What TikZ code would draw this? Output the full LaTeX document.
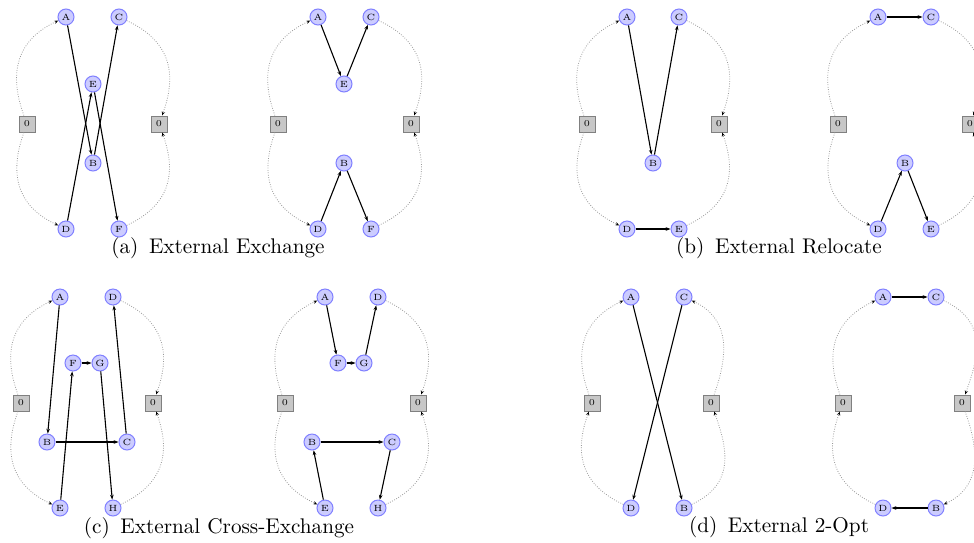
\documentclass[tikz,border=0pt]{standalone}
\usetikzlibrary{arrows.meta}

\tikzset{
  cust/.style={circle, draw=blue!50, fill=blue!20, line width=0.5pt, minimum size=8pt, inner sep=0pt, font=\fontsize{4.5}{5}\selectfont},
  depot/.style={rectangle, draw=black!50, fill=black!22, line width=0.5pt, minimum size=8pt, inner sep=0pt, font=\fontsize{4.5}{5}\selectfont},
  route/.style={-{Stealth[length=2.4pt, width=1.8pt]}, line width=0.55pt},
  tour/.style={-{Stealth[length=2pt, width=1.6pt, color=black]}, dash pattern=on 0.4pt off 0.8pt, black!40, line width=0.4pt, looseness=1.2},
  subcap/.style={font=\fontsize{10.6}{12}\selectfont}
}

\begin{document}
\begin{tikzpicture}[x=0.5pt, y=0.5pt]
  \useasboundingbox (0,0) rectangle (974,-542);

  % (a) left
  \begin{scope}[name prefix=al-]
    \node[depot] (dL) at (27,-124) {0};
    \node[depot] (dR) at (159,-124) {0};
    \node[cust] (A) at (66,-17) {A};
    \node[cust] (C) at (119,-17) {C};
    \node[cust] (E) at (93,-84) {E};
    \node[cust] (B) at (93,-163) {B};
    \node[cust] (D) at (66,-229) {D};
    \node[cust] (F) at (119,-229) {F};
    \draw[tour] (dL) to[out=110, in=205] (A);
    \draw[tour] (dL) to[out=250, in=155] (D);
    \draw[tour] (C) to[out=-25, in=70] (dR);
    \draw[tour] (F) to[out=25, in=-70] (dR);
    \draw[route] (A) -- (B);
    \draw[route] (B) -- (C);
    \draw[route] (D) -- (E);
    \draw[route] (E) -- (F);
  \end{scope}

  % (a) right
  \begin{scope}[name prefix=ar-]
    \node[depot] (dL) at (278,-124) {0};
    \node[depot] (dR) at (411,-124) {0};
    \node[cust] (A) at (318,-17) {A};
    \node[cust] (C) at (371,-17) {C};
    \node[cust] (E) at (344,-84) {E};
    \node[cust] (B) at (344,-163) {B};
    \node[cust] (D) at (318,-229) {D};
    \node[cust] (F) at (371,-229) {F};
    \draw[tour] (dL) to[out=110, in=205] (A);
    \draw[tour] (dL) to[out=250, in=155] (D);
    \draw[tour] (C) to[out=-25, in=70] (dR);
    \draw[tour] (F) to[out=25, in=-70] (dR);
    \draw[route] (A) -- (E);
    \draw[route] (E) -- (C);
    \draw[route] (D) -- (B);
    \draw[route] (B) -- (F);
  \end{scope}
  \node[subcap] (capa) at (218,-248) {(a)\enspace External Exchange};

  % (b) left
  \begin{scope}[name prefix=bl-]
    \node[depot] (dL) at (587,-124) {0};
    \node[depot] (dR) at (719,-124) {0};
    \node[cust] (A) at (627,-17) {A};
    \node[cust] (C) at (679,-17) {C};
    \node[cust] (B) at (653,-163) {B};
    \node[cust] (D) at (627,-229) {D};
    \node[cust] (E) at (679,-229) {E};
    \draw[tour] (dL) to[out=110, in=205] (A);
    \draw[tour] (dL) to[out=250, in=155] (D);
    \draw[tour] (C) to[out=-25, in=70] (dR);
    \draw[tour] (E) to[out=25, in=-70] (dR);
    \draw[route] (A) -- (B);
    \draw[route] (B) -- (C);
    \draw[route] (D) -- (E);
  \end{scope}

  % (b) right
  \begin{scope}[name prefix=br-]
    \node[depot] (dL) at (838,-124) {0};
    \node[depot] (dR) at (970,-124) {0};
    \node[cust] (A) at (878,-17) {A};
    \node[cust] (C) at (931,-17) {C};
    \node[cust] (B) at (905,-163) {B};
    \node[cust] (D) at (878,-229) {D};
    \node[cust] (E) at (931,-229) {E};
    \draw[tour] (dL) to[out=110, in=205] (A);
    \draw[tour] (dL) to[out=250, in=155] (D);
    \draw[tour] (C) to[out=-25, in=70] (dR);
    \draw[tour] (E) to[out=25, in=-70] (dR);
    \draw[route] (A) -- (C);
    \draw[route] (D) -- (B);
    \draw[route] (B) -- (E);
  \end{scope}
  \node[subcap] (capb) at (779,-248) {(b)\enspace External Relocate};

  % (c) left
  \begin{scope}[name prefix=cl-]
    \node[depot] (dL) at (21,-403) {0};
    \node[depot] (dR) at (153,-403) {0};
    \node[cust] (A) at (60,-297) {A};
    \node[cust] (D) at (113,-297) {D};
    \node[cust] (F) at (73,-363) {F};
    \node[cust] (G) at (100,-363) {G};
    \node[cust] (B) at (47,-442) {B};
    \node[cust] (C) at (127,-442) {C};
    \node[cust] (E) at (60,-508) {E};
    \node[cust] (H) at (113,-508) {H};
    \draw[tour] (dL) to[out=110, in=205] (A);
    \draw[tour] (dL) to[out=250, in=155] (E);
    \draw[tour] (D) to[out=-25, in=70] (dR);
    \draw[tour] (H) to[out=25, in=-70] (dR);
    \draw[route] (A) -- (B);
    \draw[route] (B) -- (C);
    \draw[route] (C) -- (D);
    \draw[route] (E) -- (F);
    \draw[route] (F) -- (G);
    \draw[route] (G) -- (H);
  \end{scope}

  % (c) right
  \begin{scope}[name prefix=cr-]
    \node[depot] (dL) at (285,-403) {0};
    \node[depot] (dR) at (418,-403) {0};
    \node[cust] (A) at (325,-297) {A};
    \node[cust] (D) at (378,-297) {D};
    \node[cust] (F) at (338,-363) {F};
    \node[cust] (G) at (364,-363) {G};
    \node[cust] (B) at (312,-442) {B};
    \node[cust] (C) at (392,-442) {C};
    \node[cust] (E) at (325,-508) {E};
    \node[cust] (H) at (378,-508) {H};
    \draw[tour] (dL) to[out=110, in=205] (A);
    \draw[tour] (dL) to[out=250, in=155] (E);
    \draw[tour] (D) to[out=-25, in=70] (dR);
    \draw[tour] (H) to[out=25, in=-70] (dR);
    \draw[route] (A) -- (F);
    \draw[route] (F) -- (G);
    \draw[route] (G) -- (D);
    \draw[route] (E) -- (B);
    \draw[route] (B) -- (C);
    \draw[route] (C) -- (H);
  \end{scope}
  \node[subcap] (capc) at (219,-528) {(c)\enspace External Cross-Exchange};

  % (d) left
  \begin{scope}[name prefix=dl-]
    \node[depot] (dL) at (592,-403) {0};
    \node[depot] (dR) at (711,-403) {0};
    \node[cust] (A) at (631,-297) {A};
    \node[cust] (C) at (684,-297) {C};
    \node[cust] (D) at (631,-508) {D};
    \node[cust] (B) at (684,-508) {B};
    \draw[tour] (dL) to[out=110, in=205] (A);
    \draw[tour] (D) to[out=155, in=-110] (dL);
    \draw[tour] (dR) to[out=70, in=-25] (C);
    \draw[tour] (B) to[out=25, in=-70] (dR);
    \draw[route] (A) -- (B);
    \draw[route] (C) -- (D);
  \end{scope}

  % (d) right
  \begin{scope}[name prefix=dr-]
    \node[depot] (dL) at (843,-403) {0};
    \node[depot] (dR) at (962,-403) {0};
    \node[cust] (A) at (883,-297) {A};
    \node[cust] (C) at (936,-297) {C};
    \node[cust] (D) at (883,-508) {D};
    \node[cust] (B) at (936,-508) {B};
    \draw[tour] (dL) to[out=110, in=205] (A);
    \draw[tour] (D) to[out=155, in=-110] (dL);
    \draw[tour] (C) to[out=-25, in=70] (dR);
    \draw[tour] (dR) to[out=-70, in=25] (B);
    \draw[route] (A) -- (C);
    \draw[route] (B) -- (D);
  \end{scope}
  \node[subcap] (capd) at (779,-527) {(d)\enspace External 2-Opt};
\end{tikzpicture}
\end{document}
